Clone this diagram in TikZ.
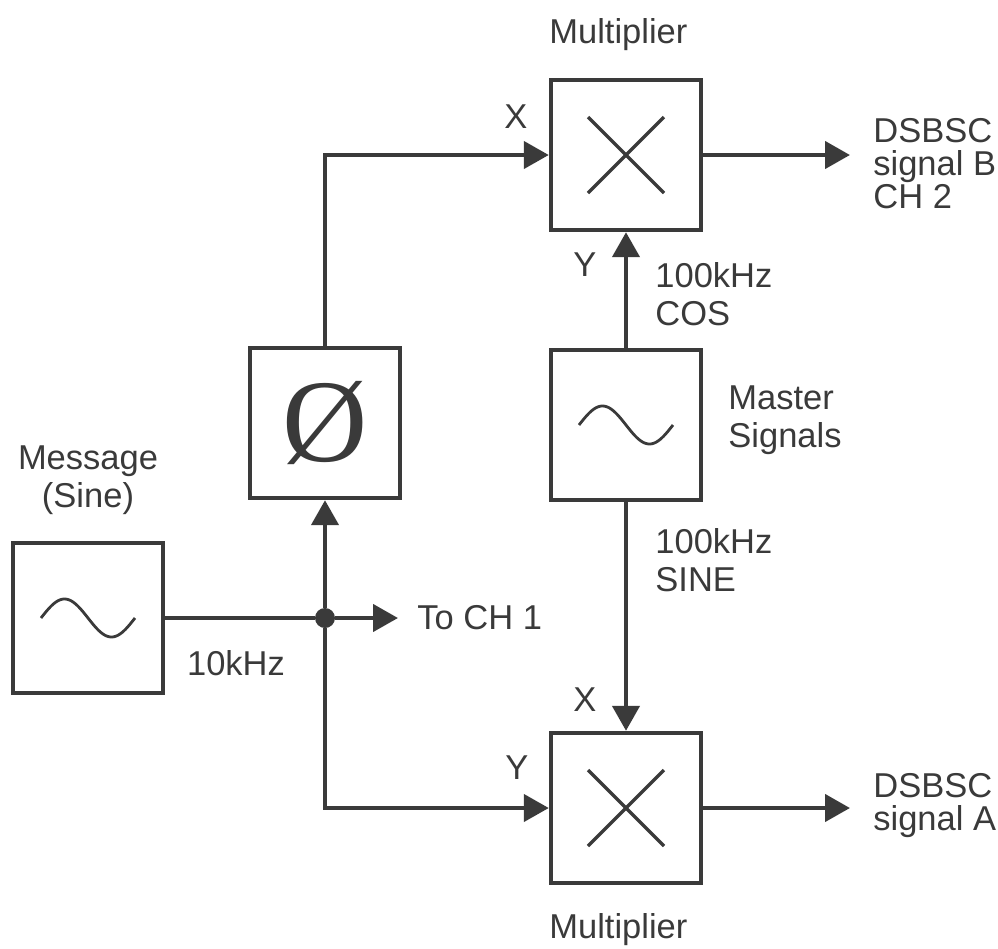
\documentclass[tikz,border=0pt]{standalone}
\usepackage{fontspec}
\setmainfont{Liberation Sans}
\newfontfamily\phasefont{Liberation Serif}
\usepackage{xcolor}
\usetikzlibrary{arrows.meta, positioning}
\definecolor{inkgray}{HTML}{3A3A3A}

\begin{document}
\begin{tikzpicture}[x=0.5pt, y=-0.5pt, inkgray,
    every node/.style={text=inkgray, inner sep=0pt,
                       font=\fontsize{17.25}{19}\selectfont},
    blockbox/.style={draw=inkgray, line width=2.2pt, minimum size=75pt},
    outlbl/.style={anchor=north west, align=left,
                   font=\fontsize{17.25}{16.5}\selectfont},
    wire/.style={line width=2.2pt},
    sig/.style={wire, -{Triangle[length=12.5pt, width=13.5pt]}},
    glyph/.style={line width=1.7pt},
    wave/.style={line width=1.4pt}]
  \useasboundingbox (0,0) rectangle (998,949);

  \node[blockbox] (mulB) at (626,155) {};
  \node[blockbox] (phase) at (325,423) {\phasefont\fontsize{59}{59}\selectfont Ø};
  \node[blockbox] (master) at (626,425) {};
  \node[blockbox] (msg) at (88,618) {};
  \node[blockbox] (mulA) at (626,808) {};
  \node[circle, fill=inkgray, minimum size=10pt] (jn) at (325,618) {};

  \foreach \m in {mulA, mulB} {
    \draw[glyph] (\m.center) ++(-38,-38) -- ++(76,76);
    \draw[glyph] (\m.center) ++(-38,38) -- ++(76,-76);
  }
  \foreach \s in {msg, master}
    \draw[wave, shift={(\s.center)}]
      plot[domain=0:360, samples=60, smooth] ({\x/360*94-47}, {-19*sin(\x)});

  \coordinate (ch1) at (398,618);
  \coordinate (outB) at (850,155);
  \coordinate (outA) at (850,808);

  \draw[wire] (msg) -- (jn);
  \draw[sig] (jn) -- (ch1);
  \draw[sig] (jn) -- (phase);
  \draw[sig] (phase) |- (mulB);
  \draw[sig] (jn) |- (mulA);
  \draw[sig] (master) -- (mulB);
  \draw[sig] (master) -- (mulA);
  \draw[sig] (mulB) -- (outB);
  \draw[sig] (mulA) -- (outA);

  \node[anchor=base west] (lblMulB) at (549,43) {Multiplier};
  \node[anchor=base west] (lblMulA) at (549,938) {Multiplier};
  \node (xB) at (516,117) {X};
  \node (yB) at (585,265) {Y};
  \node (xA) at (585,700) {X};
  \node (yA) at (517,768) {Y};
  \node[anchor=north west, align=left] (cosLbl) at (655,262) {100kHz\\COS};
  \node[anchor=north west, align=left] (sineLbl) at (655,528) {100kHz\\SINE};
  \node[anchor=north west, align=left] (masterLbl) at (728,385) {Master\\Signals};
  \node[anchor=north, align=center] (msgLbl) at (88,445) {Message\\(Sine)};
  \node[anchor=north] (freqLbl) at (236,650) {10kHz};
  \node[anchor=west] (ch1Lbl) at (417,618) {To CH 1};
  \node[outlbl] (outBLbl) at (873,118) {DSBSC\\signal B\\CH 2};
  \node[outlbl] (outALbl) at (873,773) {DSBSC\\signal A};
\end{tikzpicture}
\end{document}
